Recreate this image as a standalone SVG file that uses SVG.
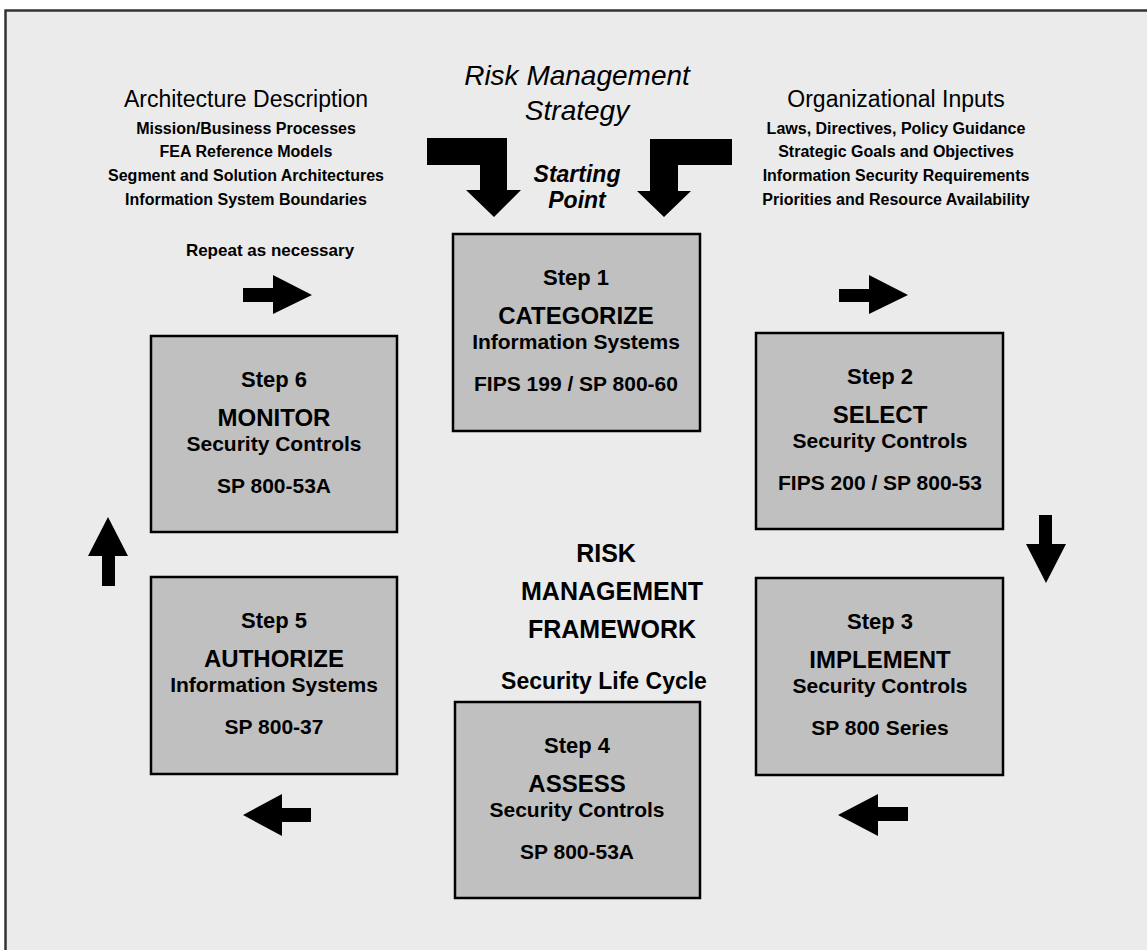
<svg xmlns="http://www.w3.org/2000/svg" width="1147" height="950" viewBox="0 0 1147 950">
<style>
.t{font-family:"Liberation Sans",Arial,sans-serif;fill:#000;text-anchor:middle}
.b{font-weight:bold}
.box{fill:#c0c0c0;stroke:#000;stroke-width:2.5}
.arr{fill:#000}
.s{font-size:22px;font-weight:bold}
.h{font-size:24px;font-weight:bold}
.m{font-size:21px;font-weight:bold}
.sm{font-size:16px;font-weight:bold}
</style>
<rect x="0" y="0" width="1147" height="950" fill="#ffffff"/>
<rect x="5.5" y="10.5" width="1160" height="960" fill="#ebebeb" stroke="#333" stroke-width="2.5"/>

<g id="header">
<text class="t" x="577" y="85" font-size="28" font-style="italic">Risk Management</text>
<text class="t" x="577" y="120" font-size="28" font-style="italic">Strategy</text>
<text class="t b" x="577" y="182" font-size="23" font-style="italic">Starting</text>
<text class="t b" x="577" y="208" font-size="23" font-style="italic">Point</text>
</g>

<g id="arch">
<text class="t" x="246" y="107" font-size="23">Architecture Description</text>
<text class="t sm" x="246" y="134">Mission/Business Processes</text>
<text class="t sm" x="246" y="157">FEA Reference Models</text>
<text class="t sm" x="246" y="181">Segment and Solution Architectures</text>
<text class="t sm" x="246" y="205">Information System Boundaries</text>
<text class="t b" x="270" y="256" font-size="17">Repeat as necessary</text>
</g>

<g id="org">
<text class="t" x="896" y="107" font-size="23">Organizational Inputs</text>
<text class="t sm" x="896" y="134">Laws, Directives, Policy Guidance</text>
<text class="t sm" x="896" y="157">Strategic Goals and Objectives</text>
<text class="t sm" x="896" y="181">Information Security Requirements</text>
<text class="t sm" x="896" y="205">Priorities and Resource Availability</text>
</g>

<g id="center">
<text class="t b" x="606" y="562" font-size="25">RISK</text>
<text class="t b" x="612" y="600" font-size="25">MANAGEMENT</text>
<text class="t b" x="612" y="638" font-size="25">FRAMEWORK</text>
<text class="t b" x="604" y="689" font-size="23">Security Life Cycle</text>
</g>

<g id="step1">
<rect class="box" x="453" y="234" width="247" height="197"/>
<text class="t s" x="576" y="285">Step 1</text>
<text class="t h" x="576" y="324">CATEGORIZE</text>
<text class="t m" x="576" y="349">Information Systems</text>
<text class="t m" x="576" y="391">FIPS 199 / SP 800-60</text>
</g>

<g id="step2">
<rect class="box" x="756" y="333" width="247" height="196"/>
<text class="t s" x="880" y="384">Step 2</text>
<text class="t h" x="880" y="423">SELECT</text>
<text class="t m" x="880" y="448">Security Controls</text>
<text class="t m" x="880" y="490">FIPS 200 / SP 800-53</text>
</g>

<g id="step3">
<rect class="box" x="756" y="578" width="247" height="197"/>
<text class="t s" x="880" y="629">Step 3</text>
<text class="t h" x="880" y="668">IMPLEMENT</text>
<text class="t m" x="880" y="693">Security Controls</text>
<text class="t m" x="880" y="735">SP 800 Series</text>
</g>

<g id="step4">
<rect class="box" x="455" y="702" width="245" height="196"/>
<text class="t s" x="577" y="753">Step 4</text>
<text class="t h" x="577" y="792">ASSESS</text>
<text class="t m" x="577" y="817">Security Controls</text>
<text class="t m" x="577" y="859">SP 800-53A</text>
</g>

<g id="step5">
<rect class="box" x="151" y="577" width="246" height="197"/>
<text class="t s" x="274" y="628">Step 5</text>
<text class="t h" x="274" y="667">AUTHORIZE</text>
<text class="t m" x="274" y="692">Information Systems</text>
<text class="t m" x="274" y="734">SP 800-37</text>
</g>

<g id="step6">
<rect class="box" x="151" y="336" width="246" height="196"/>
<text class="t s" x="274" y="387">Step 6</text>
<text class="t h" x="274" y="426">MONITOR</text>
<text class="t m" x="274" y="451">Security Controls</text>
<text class="t m" x="274" y="493">SP 800-53A</text>
</g>

<g id="connectors">
<polygon class="arr" points="427,138 507,138 507,190 521,190 494,217 466,190 480,190 480,165 427,165"/>
<polygon class="arr" points="732,139 650,139 650,191 637,191 664,217 691,191 678,191 678,165 732,165"/>
<polygon class="arr" points="243,288 273,288 273,275 312,295 273,314 273,302 243,302"/>
<polygon class="arr" points="839,289 869,289 869,275 908,295 869,314 869,302 839,302"/>
<polygon class="arr" points="1039,515 1052,515 1052,544 1066,544 1046,583 1026,544 1039,544"/>
<polygon class="arr" points="908,807 878,807 878,794 838,815 878,836 878,821 908,821"/>
<polygon class="arr" points="311,808 282,808 282,794 243,815 282,836 282,822 311,822"/>
<polygon class="arr" points="102,586 115,586 115,556 128,556 108,517 88,556 102,556"/>
</g>
</svg>
